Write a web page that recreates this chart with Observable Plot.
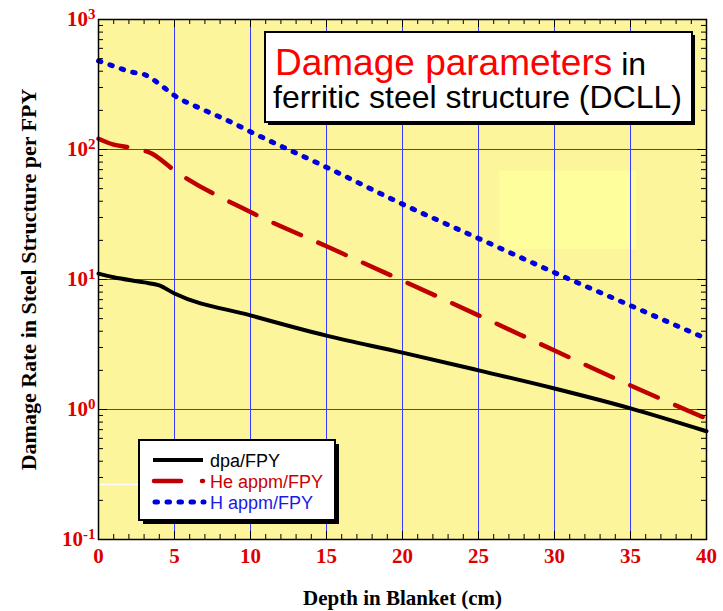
<!DOCTYPE html>
<html><head><meta charset="utf-8">
<script src="https://cdn.jsdelivr.net/npm/d3@7"></script>
<script src="https://cdn.jsdelivr.net/npm/@observablehq/plot@0.6"></script>
<style>
body{margin:0;background:#fff;}
#wrap{position:relative;width:723px;height:611px;overflow:hidden;}
#wrap svg.ov{position:absolute;left:0;top:0;pointer-events:none;}
#wrap g[aria-label="x-axis tick label"] text,
#wrap g[aria-label="y-axis tick label"] text{fill:#dd0000;font-weight:bold;font-size:21px;font-family:"Liberation Serif","Times New Roman",serif;}
</style></head><body><div id="wrap"></div>
<script>
// ---- data ----
const seriesNames = ["dpa/FPY", "He appm/FPY", "H appm/FPY"];
const dpaDepth = [0, 1, 3, 4, 5, 10, 15, 20, 25, 30, 35, 40];
const dpaRate  = [11.1, 10.4, 9.5, 9.0, 7.8, 5.3, 3.7, 2.74, 2.0, 1.45, 1.02, 0.68];
const heDepth  = [0, 1, 2, 3.5, 5, 10, 15, 20, 25, 30, 35, 40];
const heRate   = [121, 109, 104, 93, 69, 33, 18, 9.8, 5.3, 2.84, 1.53, 0.85];
const hDepth   = [0, 1.25, 2, 3, 3.5, 4.3, 5, 6.7, 8.5, 10, 15, 20, 25, 30, 35, 40];
const hRate    = [480, 428, 398, 378, 351, 300, 260, 207, 167, 137, 73, 38, 20.7, 11.3, 6.3, 3.5];
const xTicks = [0, 5, 10, 15, 20, 25, 30, 35, 40];
const yTicks = [0.1, 1, 10, 100, 1000];
const xGrid = [5, 10, 15, 20, 25, 30, 35];
const yGrid = [1, 10, 100];
const xTitle = "Depth in Blanket (cm)";
const yTitle = "Damage Rate in Steel Structure per FPY";
const titleLine1 = ["Damage parameters", " in"];
const titleLine2 = "ferritic steel structure (DCLL)";
// light patch and white stub visible in the picture
const lightPatch = [{x1: 26.4, x2: 35.4, y1: 17, y2: 68}];
const whiteStub = [{x1: 0, x2: 2.8, y: 0.265}];

const BG = "#fdf59b", LIGHT = "#fffe9c", GRID = "#3a3aff";
const colors = ["#000000", "#c00000", "#0000dd"];

const toRows = (xs, ys) => xs.map((x, i) => ({x, y: ys[i]}));
const dpa = toRows(dpaDepth, dpaRate), he = toRows(heDepth, heRate), hh = toRows(hDepth, hRate);

// minor tick positions
const minorX = d3.range(0, 41);
const minorY = [];
for (let e = -1; e <= 2; e++) for (let k = 2; k <= 9; k++) minorY.push(k * Math.pow(10, e));

const W = 723, H = 611, mt = 19, mr = 17, mb = 72, ml = 98;
const pw = W - ml - mr, ph = H - mt - mb;

const plot = Plot.plot({
  width: W, height: H,
  marginTop: mt, marginRight: mr, marginBottom: mb, marginLeft: ml,
  x: {domain: [0, 40]},
  y: {type: "log", domain: [0.1, 1000]},
  style: {fontFamily: "'Liberation Serif','Times New Roman',serif", background: "white", overflow: "visible"},
  marks: [
    Plot.frame({fill: BG}),
    Plot.rect(lightPatch, {x1: "x1", x2: "x2", y1: "y1", y2: "y2", fill: LIGHT}),
    Plot.ruleX(xGrid, {stroke: GRID, strokeWidth: 1}),
    Plot.ruleY(yGrid, {stroke: GRID, strokeWidth: 1}),
    Plot.ruleY(whiteStub, {x1: "x1", x2: "x2", y: "y", stroke: "white", strokeWidth: 1.5}),
    Plot.line(dpa, {x: "x", y: "y", stroke: colors[0], strokeWidth: 4, curve: "monotone-x"}),
    Plot.line(he, {x: "x", y: "y", stroke: colors[1], strokeWidth: 4.5, strokeDasharray: "30,19", strokeLinecap: "round", curve: "monotone-x"}),
    Plot.line(hh, {x: "x", y: "y", stroke: colors[2], strokeWidth: 5, strokeDasharray: "2.5,9.5", strokeLinecap: "round", curve: "monotone-x"}),
    // inward ticks on all four sides
    Plot.tickX(minorX, {x: d => d, stroke: "black", strokeWidth: 1, insetTop: ph - 5}),
    Plot.tickX(minorX, {x: d => d, stroke: "black", strokeWidth: 1, insetBottom: ph - 5}),
    Plot.tickX(xTicks, {x: d => d, stroke: "black", strokeWidth: 1, insetTop: ph - 8}),
    Plot.tickX(xTicks, {x: d => d, stroke: "black", strokeWidth: 1, insetBottom: ph - 8}),
    Plot.tickY(minorY, {y: d => d, stroke: "black", strokeWidth: 1, insetRight: pw - 5}),
    Plot.tickY(minorY, {y: d => d, stroke: "black", strokeWidth: 1, insetLeft: pw - 5}),
    Plot.tickY(yTicks, {y: d => d, stroke: "black", strokeWidth: 1, insetRight: pw - 9}),
    Plot.tickY(yTicks, {y: d => d, stroke: "black", strokeWidth: 1, insetLeft: pw - 9}),
    Plot.frame({stroke: "black", strokeWidth: 1.5}),
    Plot.axisX(xTicks, {tickSize: 0, tickPadding: 9, label: null}),
    Plot.axisY(yTicks, {tickSize: 0, tickPadding: 3, label: null, tickFormat: d => "10^" + Math.round(Math.log10(d))}),
    Plot.text([xTitle], {frameAnchor: "bottom", dy: 59, fontSize: 21, fontWeight: "bold", fill: "black", textAnchor: "middle", lineAnchor: "middle"}),
    Plot.text([yTitle], {frameAnchor: "left", dx: -70, rotate: -90, fontSize: 22, fontWeight: "bold", fill: "black", textAnchor: "middle", lineAnchor: "middle"})
  ]
});

// superscript exponents on y tick labels
d3.select(plot).selectAll('g[aria-label="y-axis tick label"] text').each(function () {
  const parts = this.textContent.split("^");
  this.textContent = parts[0];
  d3.select(this).append("tspan").attr("dy", "-0.48em").style("font-size", "15px").text(parts[1]);
});

const wrap = document.getElementById("wrap");
wrap.appendChild(plot);

// overlay: title box and legend
const ov = d3.select(wrap).append("svg").attr("class", "ov").attr("width", W).attr("height", H);
const SANS = "'Liberation Sans',Arial,sans-serif";
// title box
ov.append("rect").attr("x", 268).attr("y", 35).attr("width", 427).attr("height", 90).attr("fill", "black");
ov.append("rect").attr("x", 265).attr("y", 32).attr("width", 427).attr("height", 90).attr("fill", "white").attr("stroke", "black").attr("stroke-width", 2);
const t1 = ov.append("text").attr("x", 275).attr("y", 75).attr("font-family", SANS);
t1.append("tspan").attr("fill", "#ff0000").attr("font-size", 37).text(titleLine1[0]);
t1.append("tspan").attr("fill", "black").attr("font-size", 32).text(titleLine1[1]);
ov.append("text").attr("x", 273).attr("y", 108).attr("font-family", SANS).attr("font-size", 32).attr("fill", "black").text(titleLine2);
// legend
ov.append("rect").attr("x", 143).attr("y", 444).attr("width", 196).attr("height", 80).attr("fill", "black");
ov.append("rect").attr("x", 139).attr("y", 440).attr("width", 196).attr("height", 80).attr("fill", "white").attr("stroke", "black").attr("stroke-width", 2);
const legY = [460, 481, 502];
const legStyle = [
  {w: 4, dash: null, x1: 153, x2: 203},
  {w: 4.5, dash: "27,21", x1: 154, x2: 203},
  {w: 5, dash: "2.5,9.5", x1: 155, x2: 204}
];
seriesNames.forEach((name, i) => {
  const s = legStyle[i];
  const ln = ov.append("line").attr("x1", s.x1).attr("x2", s.x2).attr("y1", legY[i]).attr("y2", legY[i])
    .attr("stroke", colors[i]).attr("stroke-width", s.w).attr("stroke-linecap", s.dash ? "round" : "butt");
  if (s.dash) ln.attr("stroke-dasharray", s.dash);
  ov.append("text").attr("x", 210).attr("y", legY[i] + 7).attr("font-family", SANS)
    .attr("font-size", 18).attr("fill", i === 0 ? "black" : (i === 1 ? "#cc0000" : "#1a1ae6")).text(name);
});
</script></body></html>
